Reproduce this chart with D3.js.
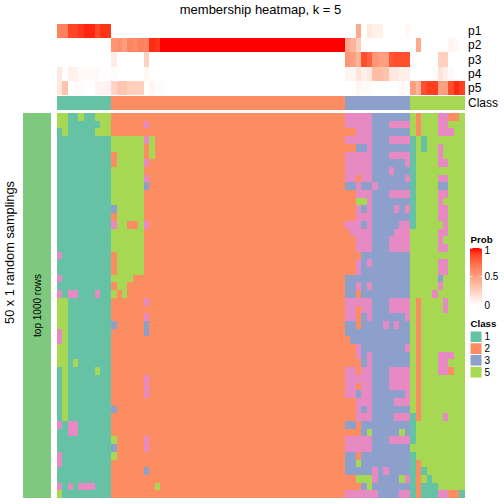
<!DOCTYPE html>
<html><head><meta charset="utf-8">
<script src="https://cdnjs.cloudflare.com/ajax/libs/d3/7.8.5/d3.min.js"></script>
<style>html,body{margin:0;padding:0;background:#fff}svg{display:block}text{font-family:"Liberation Sans",Arial,sans-serif;fill:#000}</style>
</head><body><div id="chart"></div>
<script>
const classCodes = ["1","2","3","4","5"];
const classColors = ["#66C2A5","#FC8D62","#8DA0CB","#E78AC3","#A6D854"];
const legendClasses = ["1","2","3","5"];
const probTicks = [1,0.5,0];
const probRowNames = ["p1","p2","p3","p4","p5"];

const p1 = [.65,.65,.88,.88,.92,.96,.96,.87,.93,.93,
0,0,0,0,0,0,0,0,0,0, 0,0,0,0,0,0,0,0,0,0, 0,0,0,0,0,0,0,0,0,0, 0,0,0,0,0,0,0,0,0,0, 0,0,0,0,0,
.45,0,.12,.08,.08,0,0,0,0,.04];
const p2 = [0,0,0,0,0,0,0,0,0,0,
.55,.58,.5,.62,.6,.65,.62,.95,.92,
1,1,1,1,1,1,1,1,1,1, 1,1,1,1,1,1,1,1,1,1, 1,1,1,1,1,1,1,1,1,1, 1,1,1,1,
.45,.4,.25,0,0,0,0,0,0,0,0,0,
0,.45,0,0,0,0,0,.05,.03,0];
const p3 = [0,0,0,0,0,0,0,0,0,0,
.1,0,0,0,0,0,.25,0,0,
0,0,0,0,0,0,0,0,0,0, 0,0,0,0,0,0,0,0,0,0, 0,0,0,0,0,0,0,0,0,0, 0,0,0,0,
.55,.5,.4,.85,.78,.55,.5,.5,.82,.85,.85,.85,
0,0,0,0,0,.25,.25,0,0,0];
const p4 = [.12,0,.08,.07,.03,.03,.03,.03,0,0,
.02,0,0,0,0,0,.04,0,0,
0,0,0,0,0,0,0,0,0,0, 0,0,0,0,0,0,0,0,0,0, 0,0,0,0,0,0,0,0,0,0, 0,0,0,0,
.05,.05,.15,.08,.12,.35,.35,.32,.12,.12,.08,.08,
0,0,0,0,.02,.15,.08,.03,0,0];
const p5 = [.12,.32,0,.02,.02,0,0,.06,.06,.06,
.22,.3,.3,.25,.25,.25,0,.05,.02,
.01,0,0,0,0,0,0,0,0,0, 0,0,0,0,0,0,0,0,0,0, 0,0,0,0,0,0,0,0,0,0, 0,0,0,0,
0,0,.05,.03,.03,0,0,0,0,0,.04,0,
.5,.4,.85,.9,.9,.5,.5,.85,.95,.9];

const sampleClass = "1111111111 222222222 222222222222222222222222222222222 2333333333333 5555555555";

const rows = [
"5511511555 222222222 222222222222222222222222222222222 2444443333333 5255544225",
"5511111155 222222422 222222222222222222222222222222222 2444443334444 5255544555",
"1511111555 222222222 222222222222222222222222222222222 2224443333333 5255544455",
"1111111111 555555452 222222222222222222222222222222222 2444443334444 1515555555",
"1111111111 555555252 222222222222222222222222222222222 2223343333333 1515545555",
"1111111111 255555252 222222222222222222222222222222222 2444443334444 1555545555",
"1111111111 255555422 222222222222222222222222222222222 2444443333334 1555544555",
"1111111111 555555222 222222222222222222222222222222222 2444443334333 1555555555",
"1111111111 555555422 222222222222222222222222222222222 2442443333334 1555544555",
"1111111111 555555322 222222222222222222222222222222222 2334334333333 1555533555",
"1111111111 555555222 222222222222222222222222222222222 2224443334444 1555544555",
"1111111111 555555222 222222222222222222222222222222222 2225543333333 1555545555",
"1111111111 355555222 222222222222222222222222222222222 2224343333434 1555544555",
"1111111111 255555222 222222222222222222222222222222222 2224443333333 1555544555",
"1111111111 455225422 222222222222222222222222222222222 2444343333344 1555554555",
"1111111111 555555222 222222222222222222222222222222222 2244443333444 5555544555",
"1111111111 555555222 222222222222222222222222222222222 2224443334444 5555545555",
"1111111111 555555222 222222222222222222222222222222222 2224443334444 5555544555",
"4111111111 255555222 222222222222222222222222222222222 2222333333333 5555555555",
"1111111111 255555222 222222222222222222222222222222222 2224343333333 5555544555",
"1111111111 255555222 222222222222222222222222222222222 2224333333333 5555544555",
"4111111111 555522222 222222222222222222222222222222222 2333333333333 5555535555",
"1111111111 255222222 222222222222222222222222222222222 2334343333333 5555545555",
"4144111411 525222222 222222222222222222222222222222222 2332333333333 5555455555",
"5511111111 222222422 222222222222222222222222222222222 2444443334444 5255554555",
"5511111111 222222222 222222222222222222222222222222222 2442443334444 5255554555",
"5511111111 222222422 222222222222222222222222222222222 2442343333334 5255555555",
"5511111111 322222322 222222222222222222222222222222222 2332333343433 5255555555",
"4511111111 222222322 222222222222222222222222222222222 2333333333333 5255555555",
"4511111111 222222222 222222222222222222222222222222222 2233333333333 5255555555",
"5511111111 222222222 222222222222222222222222222222222 2224333333334 5255555555",
"5511111111 222222222 222222222222222222222222222222222 2224343333333 5255544455",
"5515111111 222222222 222222222222222222222222222222222 2222343333333 5255544555",
"1511111511 222222222 222222222222222222222222222222222 2442443334444 5255544255",
"1511111111 222222422 222222222222222222222222222222222 2444443334444 5255555555",
"1511111111 222222422 222222222222222222222222222222222 2442443334444 5255555555",
"1511111111 222222422 222222222222222222222222222222222 2443443333334 5255555555",
"1511111111 222222222 222222222222222222222222222222222 2224443333444 5255555555",
"1511111111 322222222 222222222222222222222222222222222 2224343333333 5255555555",
"1511111111 222222222 222222222222222222222222222222222 2224443333444 1255554555",
"4144111111 222222222 222222222222222222222222222222222 2332333333333 1555555555",
"1144111111 222222222 222222222222222222222222222222222 2222353333353 1555555555",
"1111111111 522222422 222222222222222222222222222222222 2444443334444 1555555555",
"1111111111 322222422 222222222222222222222222222222222 2444443333333 5555555555",
"4111111111 522222222 222222222222222222222222222222222 2332333333333 1555555555",
"4111111111 222222222 222222222222222222222222222222222 2335333333333 1255555555",
"1111111111 222222322 222222222222222222222222222222222 2333334343333 1215555555",
"1111111111 222222222 222222222222222222222222222222222 2225554333354 1251555555",
"4141444111 222222225 222222222222222222222222222222222 2222353333333 1211155555",
"5111111111 222222222 222222222222222222222222222222222 2444444333344 1211144221"
];

const W = 504, H = 504;
const svg = d3.select("#chart").append("svg").attr("width",W).attr("height",H);
const cells = rows.map(r => r.replace(/ /g,"").split(""));
const nCols = cells[0].length;

const x = d3.scaleBand().domain(d3.range(nCols)).range([56.7,464.7]);
const y = d3.scaleBand().domain(d3.range(rows.length)).range([113,498]);
const yP = d3.scaleBand().domain(probRowNames).range([24,95]);
const color = d3.scaleOrdinal().domain(classCodes).range(classColors);
const probColor = d3.scaleLinear().domain([0,1]).range(["#ffffff","#ff0000"]).interpolate(d3.interpolateLab);

// left strip
svg.append("rect").attr("x",23).attr("y",113).attr("width",28).attr("height",385).attr("fill","#7FC97F");

// probability rows
[p1,p2,p3,p4,p5].forEach((vals,k) => {
  svg.append("g").attr("shape-rendering","crispEdges").selectAll("rect").data(vals).join("rect")
    .attr("x",(d,i)=>x(i)).attr("width",x.bandwidth())
    .attr("y",yP(probRowNames[k])).attr("height",yP.bandwidth())
    .attr("fill",d=>probColor(d));
});

// class annotation
const sampleCells = sampleClass.replace(/ /g,"").split("");
svg.append("g").attr("shape-rendering","crispEdges").selectAll("rect").data(sampleCells).join("rect")
  .attr("x",(d,i)=>x(i)).attr("width",x.bandwidth())
  .attr("y",96).attr("height",14).attr("fill",d=>color(d));

// matrix
const gM = svg.append("g").attr("shape-rendering","crispEdges");
cells.forEach((row,j)=>{
  gM.append("g").selectAll("rect").data(row).join("rect")
    .attr("x",(d,i)=>x(i)).attr("width",x.bandwidth())
    .attr("y",y(j)).attr("height",y.bandwidth()).attr("fill",d=>color(d));
});

// texts
svg.append("text").attr("x",260.5).attr("y",14).attr("text-anchor","middle").attr("font-size",13).text("membership heatmap, k = 5");
probRowNames.forEach(n=>{
  svg.append("text").attr("x",468).attr("y",yP(n)+yP.bandwidth()/2+4).attr("font-size",12).text(n);
});
svg.append("text").attr("x",468).attr("y",107).attr("font-size",12).text("Class");
svg.append("text").attr("transform","translate(14,252.5) rotate(-90)").attr("text-anchor","middle").attr("font-size",12.8).text("50 x 1 random samplings");
svg.append("text").attr("transform","translate(41,305.5) rotate(-90)").attr("text-anchor","middle").attr("font-size",10).text("top 1000 rows");

// prob legend
svg.append("text").attr("x",470.5).attr("y",243).attr("font-size",9.7).attr("font-weight","bold").text("Prob");
const yLeg = d3.scaleLinear().domain([0,1]).range([305,248]);
const defs = svg.append("defs");
const grad = defs.append("linearGradient").attr("id","pg").attr("x1",0).attr("x2",0).attr("y1",1).attr("y2",0);
d3.range(0,1.01,0.1).forEach(t=>grad.append("stop").attr("offset",t).attr("stop-color",probColor(t)));
svg.append("rect").attr("x",470).attr("y",yLeg(1)).attr("width",12).attr("height",yLeg(0)-yLeg(1)).attr("fill","url(#pg)");
probTicks.forEach(t=>{
  const yy = Math.min(yLeg(t),304.5);
  const yt = t===1?yLeg(t)+0.5:yy;
  [[470,472.5],[479.5,482]].forEach(s=>svg.append("line").attr("x1",s[0]).attr("x2",s[1]).attr("y1",yt).attr("y2",yt).attr("stroke","#fff").attr("stroke-width",0.7));
  svg.append("text").attr("x",484.5).attr("y",(t===1?250:yLeg(t))+3.5).attr("font-size",10).text(t);
});

// class legend
svg.append("text").attr("x",470.5).attr("y",327).attr("font-size",9.7).attr("font-weight","bold").text("Class");
const yC = d3.scaleBand().domain(legendClasses).range([331,378]);
legendClasses.forEach(c=>{
  svg.append("rect").attr("x",470).attr("y",yC(c)).attr("width",12).attr("height",yC.bandwidth())
    .attr("fill",color(c)).attr("stroke","#fff").attr("stroke-width",1);
  svg.append("text").attr("x",484.5).attr("y",yC(c)+yC.bandwidth()/2+3.5).attr("font-size",10).text(c);
});
</script></body></html>
